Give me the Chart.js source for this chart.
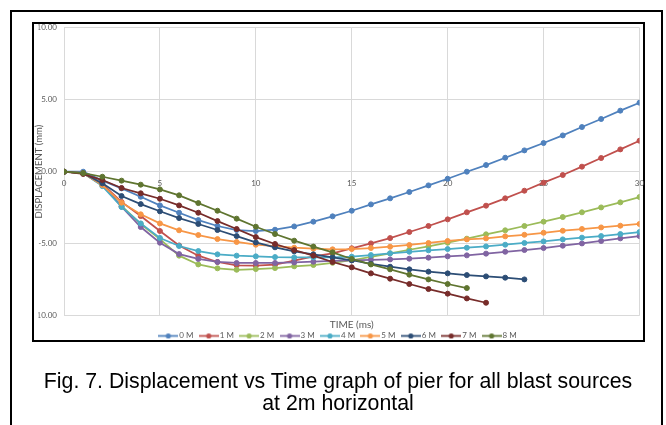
<!DOCTYPE html>
<html><head><meta charset="utf-8">
<script src="https://cdn.jsdelivr.net/npm/chart.js@4"></script>
<style>
html,body{margin:0;padding:0;background:#fff;}
body{width:666px;height:425px;position:relative;overflow:hidden;}
#outer{position:absolute;left:10px;top:10px;width:653px;height:480px;border:2px solid #000;box-sizing:border-box;}
#inner{position:absolute;left:32px;top:22px;width:613px;height:320px;border:2px solid #000;box-sizing:border-box;}
#c{position:absolute;left:0;top:0;}
#cap{position:absolute;left:0;width:676px;top:369.5px;text-align:center;font-family:'Liberation Sans',Arial,sans-serif;font-size:21.3px;line-height:22px;color:#000;}
</style></head><body>
<div id="outer"></div><div id="inner"></div>
<canvas id="c" width="666" height="425"></canvas>
<div id="cap">Fig. 7. Displacement vs Time graph of pier for all blast sources<br>at 2m horizontal</div>
<script>
const TIME_MS = [0,1,2,3,4,5,6,7,8,9,10,11,12,13,14,15,16,17,18,19,20,21,22,23,24,25,26,27,28,29,30];
const SERIES_LABELS = ['0 M','1 M','2 M','3 M','4 M','5 M','6 M','7 M','8 M'];
const D_0M = [0,0,-0.62,-1.16,-1.74,-2.34,-2.85,-3.36,-3.77,-4.05,-4.12,-4.03,-3.80,-3.47,-3.10,-2.71,-2.27,-1.85,-1.41,-0.95,-0.49,0.00,0.46,0.97,1.48,1.99,2.52,3.10,3.66,4.24,4.79];
const D_1M = [0,-0.10,-0.86,-2.10,-3.08,-4.12,-5.12,-5.83,-6.27,-6.50,-6.53,-6.46,-6.18,-5.88,-5.67,-5.32,-4.98,-4.61,-4.19,-3.77,-3.31,-2.82,-2.36,-1.85,-1.32,-0.76,-0.23,0.35,0.95,1.55,2.15];
const D_2M = [0,-0.10,-0.95,-2.38,-3.63,-4.68,-5.83,-6.44,-6.71,-6.81,-6.76,-6.69,-6.57,-6.48,-6.33,-6.15,-5.92,-5.67,-5.42,-5.18,-4.93,-4.65,-4.35,-4.07,-3.77,-3.47,-3.15,-2.82,-2.48,-2.13,-1.76];
const D_3M = [0,-0.10,-0.90,-2.43,-3.84,-4.93,-5.72,-6.06,-6.27,-6.34,-6.34,-6.34,-6.30,-6.25,-6.20,-6.16,-6.13,-6.09,-6.04,-5.97,-5.88,-5.81,-5.69,-5.56,-5.44,-5.30,-5.14,-4.98,-4.81,-4.63,-4.47];
const D_4M = [0,-0.10,-1.00,-2.45,-3.59,-4.60,-5.16,-5.51,-5.74,-5.83,-5.88,-5.93,-5.95,-5.95,-5.95,-5.90,-5.79,-5.67,-5.56,-5.46,-5.37,-5.28,-5.19,-5.07,-4.95,-4.84,-4.70,-4.58,-4.47,-4.33,-4.19];
const D_5M = [0,-0.10,-0.93,-2.15,-2.96,-3.59,-4.07,-4.40,-4.68,-4.88,-5.07,-5.16,-5.28,-5.35,-5.39,-5.37,-5.30,-5.21,-5.09,-4.95,-4.81,-4.70,-4.63,-4.49,-4.38,-4.24,-4.10,-3.98,-3.87,-3.75,-3.63];
const D_6M = [0,-0.10,-0.81,-1.69,-2.25,-2.75,-3.22,-3.63,-4.05,-4.47,-4.91,-5.25,-5.53,-5.74,-5.95,-6.15,-6.40,-6.60,-6.78,-6.94,-7.06,-7.18,-7.27,-7.36,-7.48];
const D_7M = [0,-0.16,-0.58,-1.13,-1.50,-1.88,-2.34,-2.85,-3.43,-3.98,-4.54,-5.02,-5.44,-5.83,-6.27,-6.64,-7.06,-7.43,-7.80,-8.15,-8.47,-8.80,-9.10];
const D_8M = [0,-0.10,-0.35,-0.62,-0.90,-1.23,-1.64,-2.18,-2.71,-3.26,-3.82,-4.33,-4.79,-5.20,-5.60,-6.06,-6.44,-6.78,-7.15,-7.48,-7.80,-8.08];
const SERIES = [D_0M,D_1M,D_2M,D_3M,D_4M,D_5M,D_6M,D_7M,D_8M];
const SERIES_COLORS = ['#4F81BD','#C0504D','#9BBB59','#8064A2','#4BACC6','#F79646','#2C4D75','#772C2A','#5F7530'];

Chart.defaults.font.family = "Lato, 'Open Sans', sans-serif";
const GRAY = '#595959';

function legendSwatch(color){
  const c = document.createElement('canvas'); c.width = 20; c.height = 7;
  const g = c.getContext('2d');
  g.strokeStyle = color; g.lineWidth = 1.75;
  g.beginPath(); g.moveTo(0,3.5); g.lineTo(20,3.5); g.stroke();
  g.fillStyle = color; g.beginPath(); g.arc(10,3.5,2.6,0,Math.PI*2); g.fill();
  return c;
}
const SWATCHES = SERIES_COLORS.map(legendSwatch);

new Chart(document.getElementById('c'), {
  type: 'line',
  data: {
    datasets: SERIES.map((vals, i) => ({
      label: SERIES_LABELS[i],
      data: vals.map((v, j) => ({x: TIME_MS[j], y: v})),
      borderColor: SERIES_COLORS[i],
      backgroundColor: SERIES_COLORS[i],
      pointBackgroundColor: SERIES_COLORS[i],
      pointBorderColor: SERIES_COLORS[i],
      borderWidth: 1.75,
      pointRadius: 2.5,
      pointBorderWidth: 1,
      pointHoverRadius: 2.5,
      tension: 0,
      fill: false,
      order: -i
    }))
  },
  options: {
    responsive: false,
    animation: false,
    devicePixelRatio: 1,
    events: [],
    layout: {padding: {left: 38.5, right: 26.5, top: 27.7, bottom: 75.1}},
    scales: {
      x: {
        type: 'linear', position: {y: 0}, min: 0, max: 30,
        ticks: {stepSize: 5, padding: 6.5, color: GRAY, font: {size: 8}},
        grid: {color: '#d9d9d9', lineWidth: 1, drawTicks: false},
        border: {display: false}
      },
      y: {
        type: 'linear', position: 'left', min: -10, max: 10,
        ticks: {stepSize: 5, padding: 7, color: GRAY, font: {size: 8}, callback: v => Number(v).toFixed(2)},
        grid: {color: '#d9d9d9', lineWidth: 1, drawTicks: false},
        border: {display: false},
        title: {display: true, text: 'DISPLACEMENT (mm)', color: GRAY, font: {size: 9.5, lineHeight: 1.2}, padding: {top: -5.4, bottom: 0}},
        afterFit: s => { s.width = 25.5; }
      }
    },
    plugins: {
      title: {display: true, position: 'bottom', text: 'TIME (ms)', weight: 500, fullSize: false, color: GRAY,
              font: {size: 10, weight: 'normal', lineHeight: 1}, padding: {top: 4.3, bottom: -6.4}},
      legend: {
        position: 'bottom',
        labels: {
          usePointStyle: true, pointStyleWidth: 14, padding: 8.3, color: GRAY, font: {size: 8},
          generateLabels: chart => Chart.defaults.plugins.legend.labels.generateLabels(chart)
            .sort((a, b) => a.datasetIndex - b.datasetIndex)
            .map(l => Object.assign(l, {pointStyle: SWATCHES[l.datasetIndex]}))
        }
      },
      tooltip: {enabled: false}
    }
  }
});
</script>
</body></html>
